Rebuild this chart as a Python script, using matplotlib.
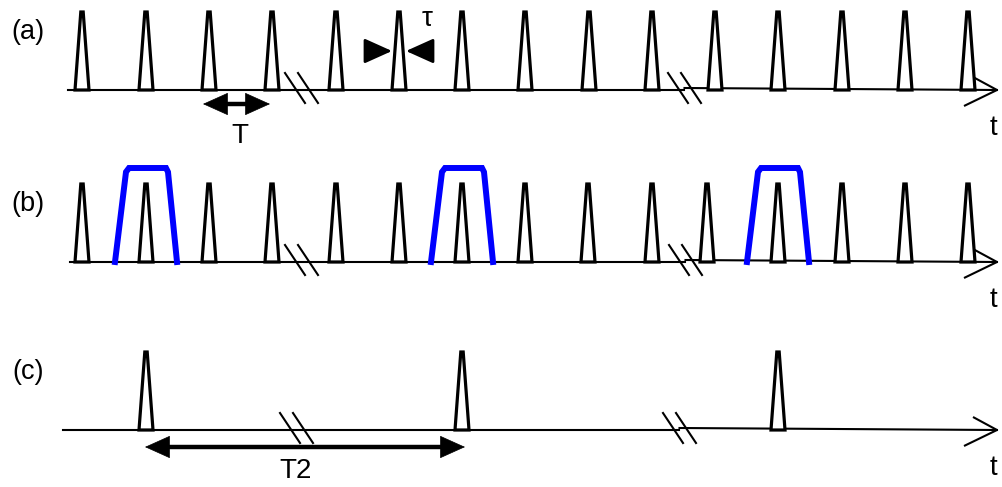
import matplotlib.pyplot as plt
from matplotlib.patches import Polygon, FancyArrowPatch

# pulse positions (horizontal position in figure pixels) for each row
pulses_a = [82, 146, 209, 272, 336, 399, 462, 525, 589, 652, 715, 778, 842, 905, 968]
pulses_b = [82, 146, 209, 272, 336, 399, 462, 525, 588, 652, 707, 778, 842, 905, 968]
pulses_c = [146, 462, 778]
gates_b = [146, 462, 778]

# axis breaks per row
breaks_a = [301.5, 684.5]
breaks_b = [301.5, 685.5]
breaks_c = [296.5, 679.5]

row_labels = ["(a)", "(b)", "(c)"]
baselines = [90, 262, 430]
axis_start = [68, 70, 63]
axis_end = 997
pulse_height = 78

plt.rcParams["font.family"] = ["Liberation Sans", "DejaVu Sans"]

fig = plt.figure(figsize=(10.03, 4.87), dpi=100)
ax = fig.add_axes([0, 0, 1, 1])
ax.set_xlim(0, 1003)
ax.set_ylim(487, 0)
ax.axis("off")

head = "-|>,head_length=1.0,head_width=0.45"


def draw_axis(y0, x0, brk):
    # time axis, slight jog after the second break, open arrow head
    ax.plot([x0, brk[1]], [y0, y0], color="black", lw=1.5, zorder=1)
    ax.plot([brk[1], axis_end], [y0 - 2, y0], color="black", lw=1.5, zorder=1)
    ax.plot([axis_end - 24, axis_end, axis_end - 33], [y0 - 13, y0, y0 + 16],
            color="black", lw=1.5, solid_capstyle="butt", zorder=1)
    for b in brk:
        for off in (-6.5, 6.5):
            xc = b + off
            ax.plot([xc - 10, xc + 10], [y0 - 17, y0 + 13], color="black",
                    lw=1.5, zorder=3)
    ax.text(993, y0 + 38, "t", fontsize=20, ha="center", va="center")


def draw_pulses(y0, xs):
    for x in xs:
        ax.add_patch(Polygon([(x - 7, y0), (x - 1.2, y0 - pulse_height),
                              (x + 1.2, y0 - pulse_height), (x + 7, y0)],
                             closed=True, facecolor="white", edgecolor="black",
                             lw=2.3, zorder=4))


def one_head(p0, p1, lw=2):
    ax.add_patch(FancyArrowPatch(p0, p1, arrowstyle=head, mutation_scale=17,
                                 color="black", lw=lw, shrinkA=0, shrinkB=0,
                                 zorder=5))


def span_arrow(x0, x1, y):
    xm = (x0 + x1) / 2
    ax.plot([x0 + 10, x1 - 10], [y, y], color="black", lw=3.2, zorder=5)
    one_head((xm, y), (x0, y), lw=0.5)
    one_head((xm, y), (x1, y), lw=0.5)


rows = [(pulses_a, breaks_a), (pulses_b, breaks_b), (pulses_c, breaks_c)]
for i, (pulses, brk) in enumerate(rows):
    y0 = baselines[i]
    draw_axis(y0, axis_start[i], brk)
    draw_pulses(y0, pulses)
    ax.text(28, y0 - 58, row_labels[i], fontsize=19.5, ha="center", va="center")

# blue gate windows in row (b)
y0 = baselines[1]
for g in gates_b:
    ax.plot([g - 31, g - 20, g - 17, g + 20, g + 22, g + 31],
            [y0, y0 - 90, y0 - 94, y0 - 94, y0 - 90, y0],
            color="#0000ff", lw=4.3, solid_joinstyle="miter", zorder=2)

# T arrow
span_arrow(203, 270, 104)
ax.text(240, 136, "T", fontsize=20, ha="center", va="center")

# tau arrows
one_head((366, 51), (392, 51))
one_head((432, 51), (406, 51))
ax.text(427, 19, "τ", fontsize=20, ha="center", va="center")

# T2 arrow
span_arrow(145, 465, 447)
ax.text(296, 471, "T2", fontsize=20, ha="center", va="center")

fig.savefig("out.png", dpi=100)
